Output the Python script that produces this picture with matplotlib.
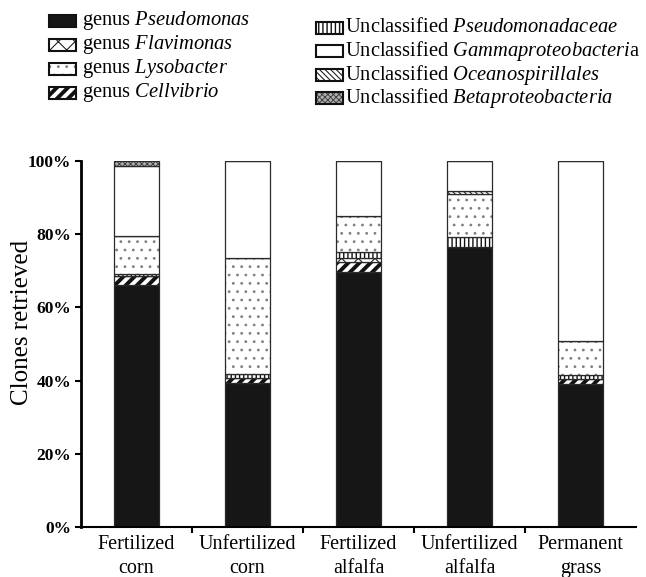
import matplotlib
matplotlib.use("Agg")
import matplotlib.pyplot as plt
from matplotlib.patches import Rectangle
import numpy as np

plt.rcParams['font.family'] = 'Liberation Serif'
plt.rcParams['mathtext.fontset'] = 'custom'
plt.rcParams['mathtext.rm'] = 'Liberation Serif'
plt.rcParams['mathtext.it'] = 'Liberation Serif:italic'
plt.rcParams['hatch.linewidth'] = 0.8

# Sites and clone composition (% of clones, bottom to top)
sites = ['Fertilized\ncorn', 'Unfertilized\ncorn', 'Fertilized\nalfalfa',
         'Unfertilized\nalfalfa', 'Permanent\ngrass']
pseudomonas       = [66.1, 39.3, 69.8, 76.6, 39.0]
cellvibrio        = [2.5, 1.5, 2.7, 0.0, 1.4]
flavimonas        = [0.0, 0.0, 1.0, 0.0, 0.0]
pseudomonadaceae  = [0.6, 0.9, 1.7, 2.5, 1.1]
lysobacter        = [10.3, 31.7, 9.9, 11.8, 9.4]
oceanospirillales = [0.0, 0.0, 0.0, 0.8, 0.0]
gammaproteo       = [19.1, 26.6, 14.9, 8.3, 49.1]
betaproteo        = [1.4, 0.0, 0.0, 0.0, 0.0]

# name, values, face colour, hatch, hatch colour, hatch line width
groups = [
    (r'genus $\mathit{Pseudomonas}$', pseudomonas, '#161616', None, '#161616', 0.8),
    (r'genus $\mathit{Cellvibrio}$', cellvibrio, 'white', '///', '#111111', 2.8),
    (r'genus $\mathit{Flavimonas}$', flavimonas, 'white', 'xx', '#222222', 0.8),
    (r'Unclassified $\mathit{Pseudomonadaceae}$', pseudomonadaceae, 'white', '||||', '#111111', 1.0),
    (r'genus $\mathit{Lysobacter}$', lysobacter, 'white', '..', '#808080', 0.8),
    (r'Unclassified $\mathit{Oceanospirillales}$', oceanospirillales, 'white', '\\\\\\\\\\\\', '#222222', 0.8),
    (r'Unclassified $\mathit{Gammaproteobacteri}$a', gammaproteo, 'white', None, 'white', 0.8),
    (r'Unclassified $\mathit{Betaproteobacteria}$', betaproteo, '#b0b0b0', 'xxxxxx', '#404040', 0.7),
]
style = {g[0]: g[2:] for g in groups}

fig = plt.figure(figsize=(6.46, 5.77), dpi=100)
ax = fig.add_axes([0.1254, 0.0867, 0.8591, 0.6343])

x = np.arange(len(sites))
width = 0.405
bottom = np.zeros(len(sites))
for name, vals, fc, hatch, hc, hlw in groups:
    vals = np.array(vals)
    bars = ax.bar(x, vals, width, bottom=bottom, color=fc, edgecolor=hc,
                  hatch=hatch, linewidth=0)
    if hasattr(bars[0], 'set_hatch_linewidth'):
        for b in bars:
            b.set_hatch_linewidth(hlw)
    ax.bar(x, vals, width, bottom=bottom, fill=False, edgecolor='#2a2a2a',
           linewidth=0.9)
    bottom += vals

ax.set_xlim(-0.5, len(sites) - 0.5)
ax.set_ylim(0, 100)
ax.spines['top'].set_visible(False)
ax.spines['right'].set_visible(False)
ax.spines['left'].set_linewidth(2)
ax.spines['bottom'].set_linewidth(1.5)

ax.set_yticks(np.arange(0, 101, 20))
ax.set_yticklabels(['%d%%' % v for v in range(0, 101, 20)],
                   fontsize=12.5, fontweight='bold')
ax.tick_params(axis='y', direction='out', length=4, width=1.5, pad=3)

ax.set_xticks(x)
ax.set_xticklabels(sites, fontsize=14.5, linespacing=1.3)
ax.tick_params(axis='x', which='major', length=0, pad=6)
ax.set_xticks(x[:-1] + 0.5, minor=True)
ax.tick_params(axis='x', which='minor', direction='out', length=4, width=1.5)

ax.set_ylabel('Clones retrieved', fontsize=18, va='center')
ax.yaxis.set_label_coords(-0.106, 0.56)

# two-column key above the plot
left_col = ['genus $\\mathit{Pseudomonas}$', 'genus $\\mathit{Flavimonas}$',
            'genus $\\mathit{Lysobacter}$', 'genus $\\mathit{Cellvibrio}$']
right_col = ['Unclassified $\\mathit{Pseudomonadaceae}$',
             'Unclassified $\\mathit{Gammaproteobacteri}$a',
             'Unclassified $\\mathit{Oceanospirillales}$',
             'Unclassified $\\mathit{Betaproteobacteria}$']
W, H = 646.0, 577.0
columns = [(left_col, 49, 82, [21, 45, 69, 93]),
           (right_col, 316, 345, [28, 51, 75, 98])]
for labels, px, tx, rows in columns:
    for lab, py in zip(labels, rows):
        fc, hatch, hc, hlw = style[lab]
        r = Rectangle((px / W, 1 - (py + 6) / H), 27 / W, 12 / H,
                      transform=fig.transFigure, facecolor=fc, edgecolor=hc,
                      hatch=hatch, linewidth=0)
        if hasattr(r, 'set_hatch_linewidth'):
            r.set_hatch_linewidth(hlw)
        fig.add_artist(r)
        fig.add_artist(Rectangle((px / W, 1 - (py + 6) / H), 27 / W, 12 / H,
                                 transform=fig.transFigure, fill=False,
                                 edgecolor='#111111', linewidth=1.5))
        fig.text(tx / W, 1 - py / H, lab, fontsize=14.8, va='center', ha='left')

fig.savefig('out.png', dpi=100)
